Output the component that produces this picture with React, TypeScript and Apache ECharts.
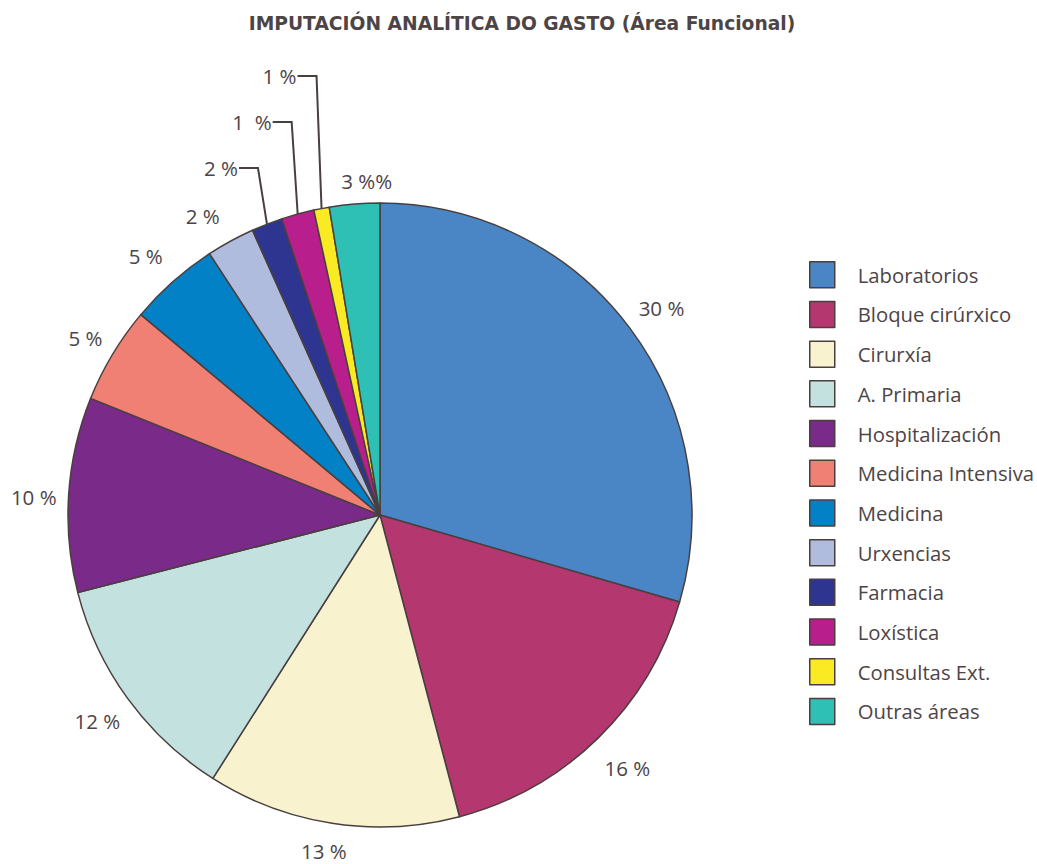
import React, { useEffect, useRef } from "react";
import * as echarts from "echarts";

const categories = [
  "Laboratorios",
  "Bloque cirúrxico",
  "Cirurxía",
  "A. Primaria",
  "Hospitalización",
  "Medicina Intensiva",
  "Medicina",
  "Urxencias",
  "Farmacia",
  "Loxística",
  "Consultas Ext.",
  "Outras áreas",
];
const values = [29.5, 16.4, 13.1, 12.0, 10.1, 5.0, 4.7, 2.5, 1.6, 1.7, 0.8, 2.6];
const pctLabels = ["30 %", "16 %", "13 %", "12 %", "10 %", "5 %", "5 %", "2 %", "2 %", "1  %", "1 %", "3 %%"];
const colors = [
  "#4a86c6",
  "#b53770",
  "#f8f2cf",
  "#c2e1df",
  "#7a2a88",
  "#f08073",
  "#0381c6",
  "#b0bcde",
  "#2d3590",
  "#b81f8d",
  "#f9ea23",
  "#2ebfb5",
];
const leaderIdx = [8, 9, 10];

const TEXT = "#4d4446";
const LINE = "#4a3f3f";
const FONT = "'Open Sans', Lato, sans-serif";
const TITLE_FONT = "'DejaVu Sans', 'Open Sans', sans-serif";
const CX = 380;
const CY = 515;
const R = 312;
const LABEL_R = 347;
const leaderLayout: Record<number, { top: number; lean: number }> = {
  8: { top: 168, lean: 9 },
  9: { top: 122, lean: 6 },
  10: { top: 76, lean: 5 },
};
const labelNudge: Record<number, [number, number]> = {
  0: [4, 1],
  1: [5, 5],
  2: [-3, -7],
  3: [-2, 2],
  4: [0, 5],
  5: [3, 2],
  6: [-4, 1],
  7: [-11, 6],
  11: [15, 12],
};

function midDir(i: number) {
  const total = values.reduce((a, b) => a + b, 0);
  let cum = 0;
  for (let k = 0; k < i; k++) cum += values[k];
  cum += values[i] / 2;
  const t = (cum / total) * Math.PI * 2;
  return [Math.sin(t), -Math.cos(t)];
}

export default function App() {
  const ref = useRef<HTMLDivElement>(null);
  useEffect(() => {
    if (!ref.current) return;
    const chart = echarts.init(ref.current, null, { renderer: "svg" });
    chart.setOption({
      animation: false,
      backgroundColor: "#ffffff",
      title: {
        text: "IMPUTACIÓN ANALÍTICA DO GASTO (Área Funcional)",
        left: 522,
        textAlign: "center",
        top: 14,
        padding: 0,
        textStyle: { fontSize: 18.7, fontWeight: "bold", color: TEXT, fontFamily: TITLE_FONT },
      },
      legend: {
        orient: "vertical",
        left: 809,
        top: 261,
        padding: 0,
        itemWidth: 25,
        itemHeight: 26,
        itemGap: 12.2,
        icon: "rect",
        itemStyle: { borderColor: LINE, borderWidth: 1.5 },
        textStyle: { fontSize: 20.3, lineHeight: 22, color: TEXT, fontFamily: FONT, padding: [0, 0, 0, 18] },
        data: categories,
      },
      series: [
        {
          type: "pie",
          center: [CX, CY],
          radius: R,
          startAngle: 90,
          clockwise: true,
          avoidLabelOverlap: false,
          itemStyle: { borderColor: LINE, borderWidth: 1.5 },
          label: {
            show: true,
            position: "outside",
            color: TEXT,
            fontFamily: FONT,
            fontSize: 20.5,
            lineHeight: 18,
            formatter: (p: any) => pctLabels[p.dataIndex],
          },
          labelLine: { show: false, lineStyle: { color: LINE, width: 2 } },
          labelLayout: (p: any) => {
            const i = p.dataIndex;
            const [dx, dy] = midDir(i);
            if (leaderIdx.indexOf(i) >= 0) {
              const cfg = leaderLayout[i];
              const p0 = [CX + R * dx, CY + R * dy];
              const p1 = [p0[0] - cfg.lean, cfg.top];
              const p2 = [p1[0] - 19, cfg.top];
              return {
                x: p2[0] - 1,
                y: cfg.top,
                align: "right",
                verticalAlign: "middle",
                labelLinePoints: [p0, p1, p2],
              };
            }
            const n = labelNudge[i] || [0, 0];
            return {
              x: CX + LABEL_R * dx + n[0],
              y: CY + LABEL_R * dy + n[1],
              align: "center",
              verticalAlign: "middle",
            };
          },
          data: categories.map((name, i) => ({
            name,
            value: values[i],
            itemStyle: { color: colors[i] },
            labelLine:
              leaderIdx.indexOf(i) >= 0
                ? { show: true, lineStyle: { color: LINE, width: 2 } }
                : { show: false },
          })),
        },
      ],
    });
    return () => chart.dispose();
  }, []);
  return (
    <div
      ref={ref}
      style={{ position: "absolute", left: 0, top: 0, width: 1037, height: 864 }}
    />
  );
}
